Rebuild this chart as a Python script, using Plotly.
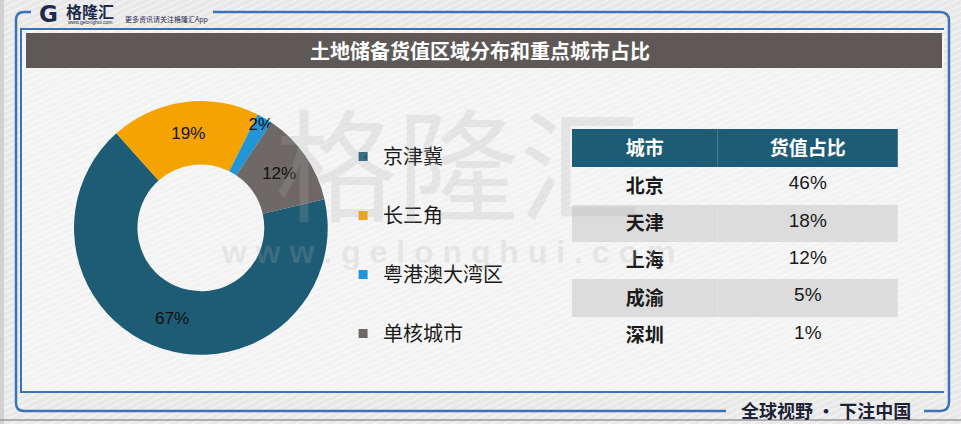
import plotly.graph_objects as go

# donut data
regions = ["京津冀", "长三角", "粤港澳大湾区", "单核城市"]
region_share = [67, 19, 2, 12]
region_colors = ["#1e5b75", "#f5a300", "#2196d6", "#6e6866"]

# table data
cities = ["北京", "天津", "上海", "成渝", "深圳"]
city_share = ["46%", "18%", "12%", "5%", "1%"]
table_header = ["城市", "货值占比"]

title_text = "土地储备货值区域分布和重点城市占比"
frame_blue = "#3b73b9"
cjk = "Noto Sans CJK SC"
latin_first = "Liberation Sans, Noto Sans CJK SC"

fig = go.Figure()

# donut
fig.add_trace(go.Pie(
    labels=regions, values=region_share, sort=False, direction="clockwise",
    rotation=77, hole=0.5, showlegend=False,
    marker=dict(colors=region_colors, line=dict(width=0)),
    texttemplate="%{value}%", textposition="inside",
    insidetextorientation="horizontal",
    textfont=dict(family="Liberation Sans, Arial", size=17, color="#111111"),
    domain=dict(x=[0.077, 0.341], y=[0.163, 0.762]),
    hoverinfo="label+percent",
))

# legend items (dummy traces so the legend can be spaced out)
for name, col in zip(regions, region_colors):
    fig.add_trace(go.Scatter(
        x=[None], y=[None], mode="markers", name=name, legendgroup=name,
        marker=dict(symbol="square", size=9, color=col),
        xaxis="x", yaxis="y",
    ))

# city table
row_fill = ["rgba(0,0,0,0)", "#dcdcdc", "rgba(0,0,0,0)", "#dcdcdc", "rgba(0,0,0,0)"]
fig.add_trace(go.Table(
    domain=dict(x=[0.595, 0.935], y=[0.17, 0.696]),
    columnwidth=[146, 180],
    header=dict(
        values=["<b>%s</b>" % h for h in table_header],
        fill_color="#1e5b75", line=dict(width=0, color="rgba(0,0,0,0)"),
        align="center", height=34,
        font=dict(family=latin_first, size=19, color="white"),
    ),
    cells=dict(
        values=[["<b>%s</b>" % c for c in cities], city_share],
        fill_color=[row_fill, row_fill], line=dict(width=0, color="rgba(0,0,0,0)"),
        align="center", height=37,
        font=dict(family=latin_first, size=19, color="#1a1a1a"),
    ),
))

# background decoration, drawn in pixel coordinates on a hidden axis
shapes = []
shapes.append(dict(type="rect", x0=0, x1=961, y0=0, y1=424, fillcolor="#e9e9e9",
                   line=dict(width=0), layer="below"))
shapes.append(dict(type="rect", x0=21, x1=944, y0=29, y1=392, fillcolor="#f3f3f3",
                   line=dict(width=0), layer="below"))
for c in range(-900, 1000, 13):
    shapes.append(dict(type="line", x0=c, y0=424, x1=c + 910, y1=0,
                       line=dict(color="rgba(255,255,255,0.55)", width=1.2), layer="below"))
shapes.append(dict(type="rect", x0=0, x1=4, y0=0, y1=424, fillcolor="#d2d2d2",
                   line=dict(width=0), layer="below"))
shapes.append(dict(type="line", x0=0, x1=961, y0=420, y1=420,
                   line=dict(color="#9a9a9a", width=1.5), layer="below"))
# outer rounded frame, broken for the logo and the slogan
shapes.append(dict(type="path", layer="below",
                   path="M 31,12 L 24,12 Q 16,12 16,20 L 16,403 Q 16,411 24,411 L 726,411",
                   line=dict(color=frame_blue, width=2.5)))
shapes.append(dict(type="path", layer="below",
                   path="M 213,12 L 940,12 Q 949,12 949,21 L 949,402 Q 949,411 940,411 L 924,411",
                   line=dict(color=frame_blue, width=2.5)))
# inner frame
shapes.append(dict(type="path", layer="below",
                   path="M 944,29 L 21,29 L 21,392 L 944,392",
                   line=dict(color=frame_blue, width=2)))
# title bar
shapes.append(dict(type="rect", x0=26, x1=942, y0=33, y1=68, fillcolor="#5e5956",
                   line=dict(width=0), layer="below"))

annotations = [
    dict(x=480, y=50, text="<b>%s</b>" % title_text, showarrow=False,
         font=dict(family=cjk, size=20, color="white")),
    # logo
    dict(x=48, y=14, text="<b>G</b>", showarrow=False,
         font=dict(family="DejaVu Sans", size=23, color="#1d2a4c")),
    dict(x=90, y=11, text="<b>格隆汇</b>", showarrow=False,
         font=dict(family=cjk, size=16, color="#1d2a4c")),
    dict(x=90, y=22, text="www.gelonghui.com", showarrow=False,
         font=dict(family="Liberation Sans", size=5, color="#1d2a4c")),
    dict(x=123, y=19, text="更多资讯请关注格隆汇App", showarrow=False, xanchor="left",
         font=dict(family=cjk, size=7, color="#1d2a4c")),
    # slogan
    dict(x=826, y=410, text="<b>全球视野 • 下注中国</b>", showarrow=False,
         font=dict(family=cjk, size=18, color="#1b2233")),
    # watermark
    dict(x=458, y=158, text="格隆汇", showarrow=False,
         font=dict(family=cjk, size=122, color="rgba(175,175,175,0.22)")),
    dict(x=448, y=252, text="<b>w w w . g e l o n g h u i . c o m</b>", showarrow=False,
         font=dict(family="Liberation Sans", size=32, color="rgba(175,175,175,0.22)")),
]

fig.update_layout(
    width=961, height=424,
    margin=dict(l=0, r=0, t=0, b=0),
    paper_bgcolor="#e9e9e9", plot_bgcolor="rgba(0,0,0,0)",
    xaxis=dict(range=[0, 961], visible=False, fixedrange=True, domain=[0, 1]),
    yaxis=dict(range=[424, 0], visible=False, fixedrange=True, domain=[0, 1]),
    shapes=shapes, annotations=annotations,
    showlegend=True,
    legend=dict(
        x=0.357, y=(424 - 137) / 424, xanchor="left", yanchor="top",
        bgcolor="rgba(0,0,0,0)", tracegroupgap=30,
        font=dict(family=cjk, size=20, color="#1a1a1a"),
    ),
    uniformtext=dict(minsize=17, mode="show"),
)

# page body has a default margin; drop it so the figure sits at the corner
fig.write_html("out.html", config={"displayModeBar": False},
               post_script="document.body.style.margin='0px';")
